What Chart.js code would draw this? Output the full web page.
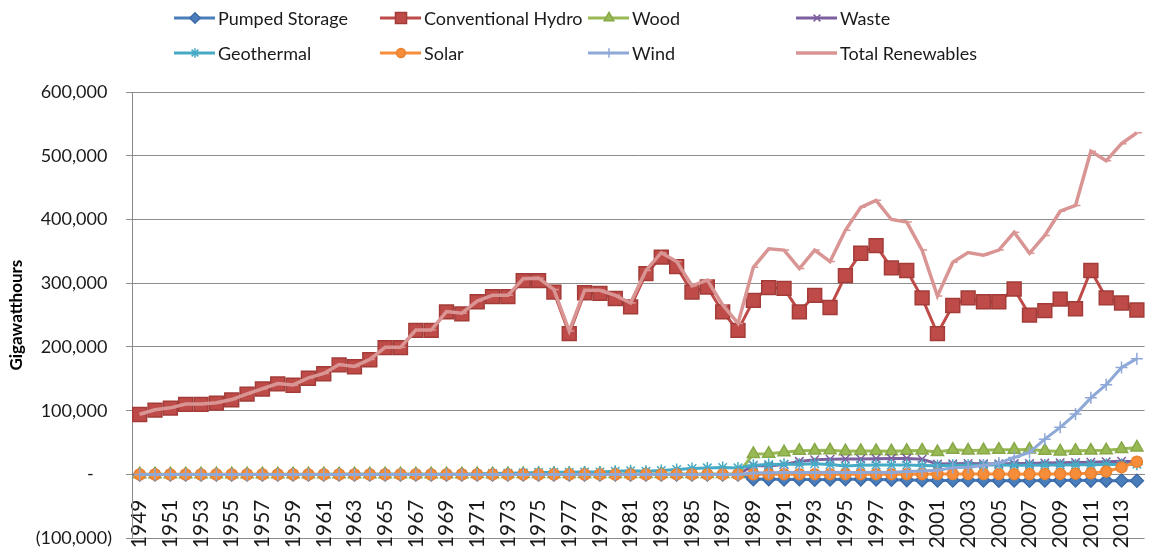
<!DOCTYPE html>
<html>
<head>
<meta charset="utf-8">
<script src="https://cdn.jsdelivr.net/npm/chart.js@4/dist/chart.umd.min.js"></script>
<style>
html, body { margin: 0; padding: 0; background: #fff; overflow: hidden; }
#wrap { width: 1163px; height: 552px; overflow: hidden; }
</style>
</head>
<body>
<div id="wrap"><canvas id="renewChart" width="1172" height="563"></canvas></div>
<script>
// Years 1949 - 2014
const years = [];
for (let y = 1949; y <= 2014; y++) years.push(String(y));

// Gigawatthours
const pumpedStorage = [
  0,0,0,0,0,0,0,0,0,0, 0,0,0,0,0,0,0,0,0,0,
  0,0,0,0,0,0,0,0,0,0, 0,0,0,0,0,0,0,0,0,0,
  -7500,-7300,-7900,-7600,-8200,-7800,-7500,-7700,-8000,-8200,
  -8800,-9100,-9500,-9400,-9100,-9300,-9700,-9400,-9800,-9500,
  -9300,-9200,-9600,-9700,-9400,-9800
];
const conventionalHydro = [
  94000,101000,104000,110000,110000,112000,117000,126000,134000,142000,
  140000,151000,158000,172000,169000,180000,199000,199000,226000,226000,
  255000,252000,271000,279000,279000,304000,304000,286000,221000,285000,
  284000,276000,263000,315000,341000,326000,286000,294000,255000,226000,
  273000,293000,292000,255000,281000,262000,312000,347000,359000,324000,
  320000,277000,221000,265000,277000,271000,271000,291000,250000,257000,
  275000,260000,320000,277000,269000,258000
];
const wood = [
  390,360,350,370,360,380,390,400,410,400, 420,430,420,440,450,470,460,480,500,490,
  510,520,530,520,540,560,570,590,610,600, 630,650,680,700,720,740,760,780,770,800,
  32200,32500,35000,37000,37400,37900,36500,36800,36900,36300,
  37000,37600,35200,38700,37500,38100,38900,38800,39000,37300,
  36100,37200,37400,37800,40000,42300
];
const waste = [
  0,0,0,0,0,0,0,0,0,0, 0,0,0,0,0,0,0,0,0,0,
  0,0,0,0,0,0,0,0,0,0, 0,0,0,0,0,0,0,0,0,0,
  14000,13300,15500,20500,23000,23800,24200,24300,24800,25000,
  25200,24000,16500,16800,17200,16900,16600,17000,17300,17900,
  18400,18900,19200,19800,20800,19900
];
const geothermal = [
  0,0,0,0,0,0,0,0,0,0, 0,30,100,140,170,200,190,190,290,410,
  430,520,530,1450,1970,2450,3250,3620,3580,3890, 3940,5070,5690,4840,6080,7740,9330,10310,10780,10300,
  14600,15430,16000,16140,16790,15540,13380,14330,14730,14770,
  14830,14090,13740,14490,14420,14810,14690,14570,14640,14840,
  15010,15220,15320,15560,15780,15880
];
const solar = [
  0,0,0,0,0,0,0,0,0,0, 0,0,0,0,0,0,0,0,0,0,
  0,0,0,0,0,0,0,0,0,0, 0,0,0,0,0,5,10,15,15,10,
  300,370,460,420,460,480,500,520,510,500,
  490,490,540,560,530,580,550,510,610,860,
  890,1210,1820,4600,11000,20000
];
const wind = [
  0,0,0,0,0,0,0,0,0,0, 0,0,0,0,0,0,0,0,0,0,
  0,0,0,0,0,0,0,0,0,0, 0,0,0,0,3,6,6,4,4,0,
  2100,2790,2950,2890,3010,3450,3160,3230,3290,3030,
  4490,5590,6740,10350,11190,14140,17810,26590,34450,55360,
  73890,94650,120180,140820,167840,181660
];
const totalRenewables = [
  94500,101500,104500,110500,110500,112500,117500,126500,134500,142500,
  140500,151500,158500,172500,169500,180500,199500,199500,226500,226500,
  255500,253000,272000,281000,281000,307000,308000,290000,225000,289000,
  289000,281000,269000,320000,348000,334000,296000,305000,266000,237000,
  325000,354000,352000,323000,352000,334000,383000,419000,430000,400000,
  396000,352000,280000,333000,348000,344000,352000,380000,347000,375000,
  413000,422000,507000,492000,519000,536000
];

const yTicks = [-100000, 0, 100000, 200000, 300000, 400000, 500000, 600000];

const FONT = 'Lato, "Open Sans", sans-serif';

function series(label, data, color, edge, style, radius, order) {
  return {
    label: label,
    data: data,
    borderColor: color,
    borderWidth: 3,
    pointStyle: style,
    pointRadius: radius,
    pointHoverRadius: radius,
    pointBackgroundColor: color,
    pointBorderColor: edge,
    pointBorderWidth: 1.5,
    tension: 0,
    fill: false,
    order: order
  };
}

const datasets = [
  series('Pumped Storage', pumpedStorage, '#4A7EBB', '#3C6AA8', 'rectRot', 6.5, 8),
  series('Conventional Hydro', conventionalHydro, '#BE4B48', '#A33C39', 'rect', 9.8, 7),
  series('Wood', wood, '#98B954', '#87A847', 'triangle', 7, 6),
  series('Waste', waste, '#7D60A0', '#7D60A0', 'crossRot', 6, 5),
  series('Geothermal', geothermal, '#46AAC5', '#46AAC5', 'star', 6, 4),
  series('Solar', solar, '#F68D3A', '#E9822F', 'circle', 5.5, 3),
  series('Wind', wind, '#8EA8D8', '#8EA8D8', 'cross', 6, 2),
  series('Total Renewables', totalRenewables, '#D99593', '#D99593', 'dash', 5, 1)
];
datasets[7].borderWidth = 3.5;

// Legend laid out in Excel-like columns
const legendCols = [218, 424, 632, 840];
const legendRows = [18, 53];

const gridLegend = {
  id: 'gridLegend',
  afterDraw(chart) {
    const ctx = chart.ctx;
    chart.data.datasets.forEach((ds, i) => {
      const x = legendCols[i % 4];
      const y = legendRows[Math.floor(i / 4)];
      ctx.save();
      ctx.strokeStyle = ds.borderColor;
      ctx.lineWidth = ds.borderWidth;
      ctx.beginPath();
      ctx.moveTo(x - 44, y);
      ctx.lineTo(x - 3, y);
      ctx.stroke();
      ctx.fillStyle = ds.pointBackgroundColor;
      ctx.strokeStyle = ds.pointBorderColor;
      ctx.lineWidth = ds.pointBorderWidth;
      if (Chart.helpers && Chart.helpers.drawPoint) {
        Chart.helpers.drawPoint(ctx, {
          pointStyle: ds.pointStyle, radius: ds.pointRadius * 0.8,
          borderWidth: ds.pointBorderWidth, rotation: 0
        }, x - 23, y);
      }
      ctx.fillStyle = '#1a1a1a';
      ctx.font = '18px ' + FONT;
      ctx.textBaseline = 'middle';
      ctx.textAlign = 'left';
      ctx.fillText(ds.label, x, y + 1);
      ctx.restore();
    });
  }
};

function fmt(v) {
  return Math.abs(v).toLocaleString('en-US');
}

new Chart(document.getElementById('renewChart'), {
  type: 'line',
  data: { labels: years, datasets: datasets },
  plugins: [gridLegend],
  options: {
    responsive: false,
    animation: false,
    layout: { padding: { left: 0, top: 92, right: 2, bottom: 14 } },
    plugins: {
      legend: { display: false },
      tooltip: { enabled: false }
    },
    scales: {
      x: {
        offset: true,
        position: { y: 0 },
        grid: { display: false, drawTicks: false, offset: true },
        border: { display: true, color: '#8a8a8a', width: 1 },
        ticks: {
          autoSkip: false,
          minRotation: 90,
          maxRotation: 90,
          padding: 25,
          color: '#1a1a1a',
          font: { family: FONT, size: 21 },
          callback: function (val, idx) {
            return idx % 2 === 0 ? this.getLabelForValue(val) : null;
          }
        }
      },
      y: {
        min: -100000,
        max: 600000,
        afterFit(scale) { scale.width = 132; },
        afterBuildTicks(scale) { scale.ticks = yTicks.map(v => ({ value: v })); },
        grid: { color: '#8c8c8c', lineWidth: 1, drawTicks: true, tickLength: 6 },
        border: { display: true, color: '#8a8a8a', width: 1 },
        ticks: {
          padding: 14,
          color: '#1a1a1a',
          font: { family: FONT, size: 18 },
          callback: function (v) {
            if (v === 0) return '-    ';
            if (v < 0) return '(' + fmt(v) + ')';
            return fmt(v) + ' ';
          }
        },
        title: {
          display: true,
          text: 'Gigawatthours',
          color: '#000',
          font: { family: FONT, size: 17, weight: 'bold' },
          padding: { top: 6, bottom: 0 }
        }
      }
    }
  }
});
</script>
</body>
</html>
